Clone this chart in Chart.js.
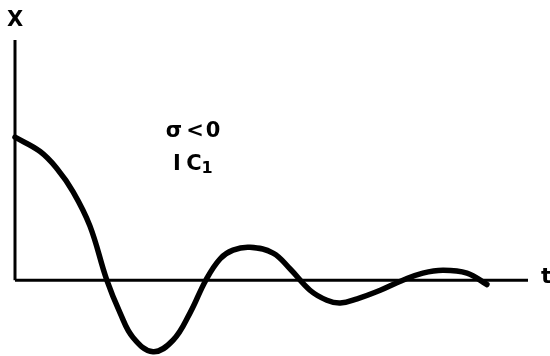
<!DOCTYPE html>
<html>
<head>
<meta charset="utf-8">
<script src="https://cdn.jsdelivr.net/npm/chart.js@4.4.0/dist/chart.umd.min.js"></script>
<style>
  html, body { margin: 0; padding: 0; background: #fff; }
  #wrap { width: 550px; height: 356px; }
</style>
</head>
<body>
<div id="wrap"><canvas id="chart"></canvas></div>
<script>
// time values along t axis
const tValues = [0, 0.49, 0.82, 1.13, 1.46, 1.79, 2.05, 2.30, 2.69, 3.08, 3.41, 3.72, 4.00, 4.25, 4.58, 5.03, 5.36, 5.75, 6.08, 6.34, 6.67, 7.12, 7.56, 7.95, 8.34, 8.81, 9.20];
// X(t), damped oscillation
const xValues = [1.0, 0.90, 0.78, 0.62, 0.38, 0, -0.23, -0.40, -0.50, -0.42, -0.23, 0, 0.15, 0.21, 0.23, 0.19, 0.08, -0.07, -0.14, -0.16, -0.13, -0.07, 0, 0.05, 0.07, 0.05, -0.03];
const tAxisEnd = 10;
const xAxisTop = 1.68;
const annotations = ['σ<0', 'IC', '1'];

const curve = tValues.map((t, i) => ({ x: t, y: xValues[i] }));

const labelsPlugin = {
  id: 'labels',
  afterDatasetsDraw(chart) {
    const { ctx, scales } = chart;
    const px = v => scales.x.getPixelForValue(v);
    const py = v => scales.y.getPixelForValue(v);
    ctx.save();
    ctx.fillStyle = '#000';
    ctx.textAlign = 'center';
    ctx.textBaseline = 'middle';

    // axis names
    ctx.font = 'bold 21px "DejaVu Sans"';
    ctx.fillText('X', px(0), py(xAxisTop) - 19);
    ctx.textAlign = 'left';
    ctx.font = 'bold 22px "DejaVu Sans"';
    ctx.fillText('t', px(tAxisEnd) + 13, py(0) - 3);

    // σ<0 written with wide typewriter spacing
    ctx.textAlign = 'center';
    ctx.font = 'bold 21px "DejaVu Sans"';
    const chars = Array.from(annotations[0]);
    const cx = [174, 195, 213];
    chars.forEach((c, i) => ctx.fillText(c, cx[i], 132));
    ctx.fillText('I', 177, 165);
    ctx.fillText('C', 194, 165);
    ctx.font = 'bold 16px "DejaVu Sans"';
    ctx.fillText(annotations[2], 207, 169);
    ctx.restore();
  }
};

new Chart(document.getElementById('chart'), {
  type: 'scatter',
  data: {
    datasets: [
      {
        data: [{ x: 0, y: 0 }, { x: tAxisEnd, y: 0 }],
        showLine: true, borderColor: '#000', borderWidth: 3, pointRadius: 0, clip: false
      },
      {
        data: [{ x: 0, y: 0 }, { x: 0, y: xAxisTop }],
        showLine: true, borderColor: '#000', borderWidth: 3, pointRadius: 0, clip: false
      },
      {
        data: curve,
        showLine: true, borderColor: '#000', borderWidth: 5.5, pointRadius: 0,
        tension: 0.4, clip: false,
        borderCapStyle: 'round', borderJoinStyle: 'round'
      }
    ]
  },
  options: {
    responsive: true,
    maintainAspectRatio: false,
    animation: false,
    layout: { padding: { left: 15, right: 22, top: 40, bottom: 0 } },
    plugins: { legend: { display: false }, tooltip: { enabled: false } },
    scales: {
      x: { type: 'linear', min: 0, max: tAxisEnd, display: false },
      y: { type: 'linear', min: -0.53, max: xAxisTop, display: false }
    }
  },
  plugins: [labelsPlugin]
});
</script>
</body>
</html>
